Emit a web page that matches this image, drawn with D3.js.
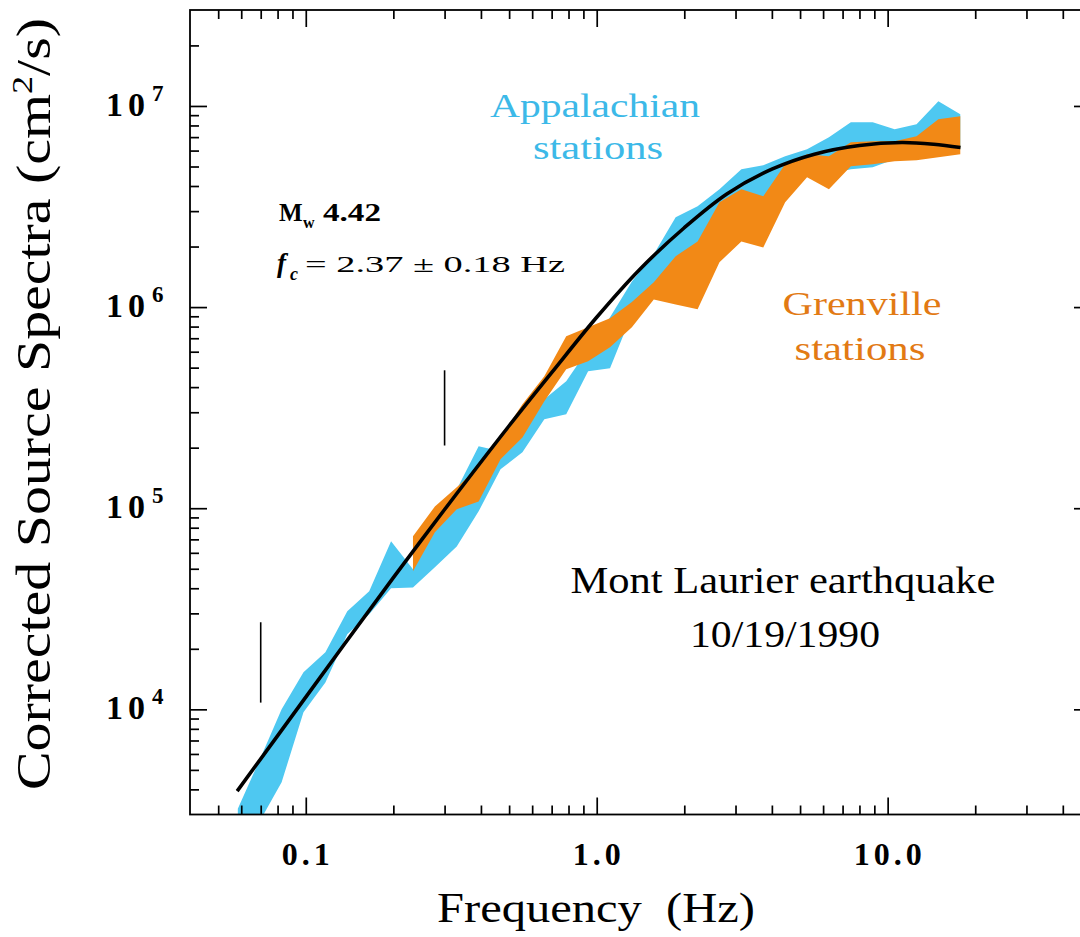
<!DOCTYPE html>
<html>
<head>
<meta charset="utf-8">
<script src="https://cdn.jsdelivr.net/npm/d3@7"></script>
<style>
  body { margin: 0; background: #fff; }
  svg { display: block; }
  text { font-family: "Liberation Serif", "Times New Roman", serif; }
</style>
</head>
<body>
<svg id="chart" width="1080" height="937"></svg>
<script>
// Appalachian stations: spectral band (quarter-octave frequencies, Hz; spectra in cm^2/s)
const appFreq  = [0.0584, 0.0694, 0.0826, 0.0982, 0.1168, 0.1389, 0.1652, 0.1964, 0.2336, 0.2778,
                  0.3303, 0.3928, 0.4671, 0.5555, 0.6606, 0.7856, 0.9342, 1.111, 1.321, 1.571,
                  1.868, 2.222, 2.642, 3.142, 3.737, 4.444, 5.284, 6.284, 7.473, 8.887,
                  10.57, 12.57, 14.94, 17.77];
const appUpper = [3.2e3, 5.6e3, 1.0e4, 1.53e4, 1.92e4, 3.07e4, 3.86e4, 6.85e4, 4.97e4, 8.3e4,
                  1.24e5, 2.03e5, 1.92e5, 2.77e5, 3.48e5, 4.28e5, 6.17e5, 8.9e5, 1.34e6, 1.83e6,
                  2.8e6, 3.17e6, 3.85e6, 4.84e6, 5.07e6, 5.62e6, 6.09e6, 6.99e6, 8.3e6, 8.3e6,
                  7.66e6, 8.11e6, 1.055e7, 9.09e6];
const appLower = [1.8e3, 2.77e3, 4.34e3, 9.66e3, 1.36e4, 2.36e4, 2.97e4, 4.0e4, 4.04e4, 5.08e4,
                  6.46e4, 9.65e4, 1.56e5, 1.9e5, 2.77e5, 2.93e5, 4.8e5, 4.96e5, 9.21e5, 1.23e6,
                  1.54e6, 1.83e6, 2.58e6, 3.25e6, 3.06e6, 4.32e6, 4.73e6, 4.58e6, 4.84e6, 4.96e6,
                  5.43e6, 5.56e6, 5.75e6, 6.09e6];

// Grenville stations: spectral band
const grenFreq  = [0.2336, 0.2778, 0.3303, 0.3928, 0.4671, 0.5555, 0.6606, 0.7856, 0.9342, 1.111,
                   1.321, 1.571, 1.868, 2.222, 2.642, 3.142, 3.737, 4.444, 5.284, 6.284,
                   7.473, 8.887, 10.57, 12.57, 14.94, 17.77];
const grenUpper = [7.25e4, 1.02e5, 1.27e5, 1.6e5, 2.25e5, 3.29e5, 4.53e5, 7.16e5, 7.93e5, 8.8e5,
                   1.06e6, 1.33e6, 1.79e6, 2.12e6, 3.32e6, 3.85e6, 3.56e6, 5.13e6, 5.75e6, 5.62e6,
                   6.6e6, 6.67e6, 6.67e6, 7.07e6, 8.59e6, 8.89e6];
const grenLower = [4.86e4, 7.59e4, 9.87e4, 1.08e5, 1.75e5, 2.25e5, 3.4e5, 4.91e5, 5.38e5, 6.31e5,
                   7.93e5, 1.09e6, 1.03e6, 9.75e5, 1.67e6, 2.12e6, 1.98e6, 3.32e6, 4.42e6, 3.85e6,
                   5.01e6, 5.13e6, 5.31e6, 5.37e6, 5.56e6, 5.75e6];

// Source model fit (fc = 2.37 Hz)
const fitFreq = [0.0581, 0.1, 0.2, 0.3, 0.5, 0.7, 1.0, 1.4, 2.0, 2.8,
                 4.0, 5.6, 8.0, 11.2, 14.4, 17.8];
const fitVal  = [3.92e3, 1.15e4, 4.52e4, 9.85e4, 2.57e5, 4.72e5, 8.9e5, 1.53e6, 2.48e6, 3.65e6,
                 4.85e6, 5.76e6, 6.36e6, 6.58e6, 6.45e6, 6.21e6];

// Frequency-band limit markers
const markerFreq = [0.07, 0.3];
const markerLow  = [1.08e4, 2.05e5];
const markerHigh = [2.71e4, 4.85e5];

// Axis ticks and labels
const xMajor = [0.1, 1, 10];
const xMajorLabels = ["0.1", "1.0", "10.0"];
const xMinor = [0.05, 0.06, 0.07, 0.08, 0.09, 0.2, 0.3, 0.4, 0.5, 0.6, 0.7, 0.8, 0.9,
                2, 3, 4, 5, 6, 7, 8, 9, 20, 30, 40];
const yMajor = [1e4, 1e5, 1e6, 1e7];
const yMajorExp = ["4", "5", "6", "7"];
const yMinor = [4e3, 5e3, 6e3, 7e3, 8e3, 9e3, 2e4, 3e4, 4e4, 5e4, 6e4, 7e4, 8e4, 9e4,
                2e5, 3e5, 4e5, 5e5, 6e5, 7e5, 8e5, 9e5, 2e6, 3e6, 4e6, 5e6, 6e6, 7e6, 8e6, 9e6, 2e7];

const BLUE = "#4EC8F1", ORANGE = "#F28916";
const BLUE_TEXT = "#3CB9E8", ORANGE_TEXT = "#E27A14";

const W = 1080, H = 937;
const plot = { left: 190, right: 1091, top: 10, bottom: 814.5 };

const x = d3.scaleLog().domain([0.04, 50]).range([plot.left, plot.right]);
const y = d3.scaleLog().domain([3000, 3e7]).range([plot.bottom, plot.top]);

const svg = d3.select("#chart");
svg.append("rect").attr("width", W).attr("height", H).attr("fill", "#fff");

svg.append("defs").append("clipPath").attr("id", "plotClip")
  .append("rect")
  .attr("x", plot.left).attr("y", plot.top)
  .attr("width", plot.right - plot.left).attr("height", plot.bottom - plot.top);

const marks = svg.append("g").attr("clip-path", "url(#plotClip)");

function band(freqs, lo, hi) {
  return d3.area()
    .x((d, i) => x(freqs[i]))
    .y0((d, i) => y(lo[i]))
    .y1((d, i) => y(hi[i]))(freqs);
}

marks.append("path").attr("d", band(appFreq, appLower, appUpper)).attr("fill", BLUE);
marks.append("path").attr("d", band(grenFreq, grenLower, grenUpper)).attr("fill", ORANGE);

marks.append("path")
  .attr("d", d3.line()
    .x(d => x(d))
    .y((d, i) => y(fitVal[i]))
    .curve(d3.curveCatmullRom.alpha(0.5))(fitFreq))
  .attr("fill", "none").attr("stroke", "#000").attr("stroke-width", 3.6)
  .attr("stroke-linecap", "butt");

marks.selectAll("line.marker").data(markerFreq).join("line")
  .attr("class", "marker")
  .attr("x1", d => x(d)).attr("x2", d => x(d))
  .attr("y1", (d, i) => y(markerLow[i])).attr("y2", (d, i) => y(markerHigh[i]))
  .attr("stroke", "#000").attr("stroke-width", 1.6);

// Axes: inward ticks on all four sides
function styleAxis(sel) {
  sel.select(".domain").remove();
  sel.selectAll(".tick line").attr("stroke", "#000").attr("stroke-width", 1.7);
  sel.selectAll(".tick text").remove();
}
const axes = [
  [d3.axisBottom(x), `translate(0,${plot.bottom})`, xMajor, xMinor],
  [d3.axisTop(x), `translate(0,${plot.top})`, xMajor, xMinor],
  [d3.axisLeft(y), `translate(${plot.left},0)`, yMajor, yMinor],
  [d3.axisRight(y), `translate(${plot.right},0)`, yMajor, yMinor]
];
axes.forEach(([ax, tr, major, minor]) => {
  svg.append("g").attr("transform", tr)
    .call(ax.tickValues(major).tickSize(-17).tickFormat(""))
    .call(styleAxis);
  svg.append("g").attr("transform", tr)
    .call(ax.tickValues(minor).tickSize(-9).tickFormat(""))
    .call(styleAxis);
});

svg.append("rect")
  .attr("x", plot.left).attr("y", plot.top)
  .attr("width", plot.right - plot.left).attr("height", plot.bottom - plot.top)
  .attr("fill", "none").attr("stroke", "#000").attr("stroke-width", 1.8);

// Tick labels
svg.selectAll("text.xlab").data(xMajor).join("text")
  .attr("class", "xlab")
  .attr("x", d => x(d) + 2).attr("y", 865)
  .attr("text-anchor", "middle")
  .attr("font-size", 32).attr("font-weight", "bold")
  .attr("letter-spacing", 4)
  .text((d, i) => xMajorLabels[i]);

const ylab = svg.selectAll("g.ylab").data(yMajor).join("g").attr("class", "ylab");
ylab.append("text")
  .attr("x", 150).attr("y", d => y(d) + 10)
  .attr("text-anchor", "end")
  .attr("font-size", 34).attr("font-weight", "bold")
  .attr("letter-spacing", 5)
  .text("10");
ylab.append("text")
  .attr("x", 152).attr("y", d => y(d) - 5)
  .attr("font-size", 23).attr("font-weight", "bold")
  .text((d, i) => yMajorExp[i]);

// Axis titles
svg.append("text")
  .attr("x", 596).attr("y", 922)
  .attr("text-anchor", "middle")
  .attr("font-size", 42)
  .attr("textLength", 318).attr("lengthAdjust", "spacingAndGlyphs")
  .text("Frequency\u00a0\u00a0(Hz)");

const yTitle = svg.append("text")
  .attr("transform", "translate(50,404) rotate(-90)")
  .attr("text-anchor", "middle")
  .attr("font-size", 48)
  .attr("textLength", 772).attr("lengthAdjust", "spacingAndGlyphs");
yTitle.append("tspan").text("Corrected Source Spectra (cm");
yTitle.append("tspan").attr("font-size", 30).attr("dy", -18).text("2");
yTitle.append("tspan").attr("dy", 18).text("/s)");

// Series labels and event title
function label(txt, cx, base, len, color, size) {
  svg.append("text")
    .attr("x", cx).attr("y", base)
    .attr("text-anchor", "middle")
    .attr("font-size", size)
    .style("fill", color)
    .attr("textLength", len).attr("lengthAdjust", "spacingAndGlyphs")
    .text(txt);
}
label("Appalachian", 595, 117, 210, BLUE_TEXT, 33);
label("stations", 598, 159, 130, BLUE_TEXT, 33);
label("Grenville", 862, 315, 159, ORANGE_TEXT, 33);
label("stations", 860, 360, 131, ORANGE_TEXT, 33);
label("Mont Laurier earthquake", 783, 593, 425, "#000", 37);
label("10/19/1990", 785, 647, 190, "#000", 37);

// Source parameters
svg.append("text").attr("x", 279).attr("y", 221)
  .attr("font-size", 25).attr("font-weight", "bold").text("M");
svg.append("text").attr("x", 303).attr("y", 228)
  .attr("font-size", 16).attr("font-weight", "bold").text("w");
svg.append("text").attr("x", 323).attr("y", 221)
  .attr("font-size", 25).attr("font-weight", "bold")
  .attr("textLength", 58).attr("lengthAdjust", "spacingAndGlyphs")
  .text("4.42");
svg.append("text").attr("x", 277).attr("y", 272)
  .attr("font-size", 27).attr("font-style", "italic").attr("font-weight", "bold").text("f");
svg.append("text").attr("x", 290).attr("y", 280)
  .attr("font-size", 18).attr("font-style", "italic").attr("font-weight", "bold").text("c");
svg.append("text").attr("x", 305).attr("y", 272)
  .attr("font-size", 24)
  .attr("textLength", 260).attr("lengthAdjust", "spacingAndGlyphs")
  .text("= 2.37 \u00b1 0.18 Hz");
</script>
</body>
</html>
